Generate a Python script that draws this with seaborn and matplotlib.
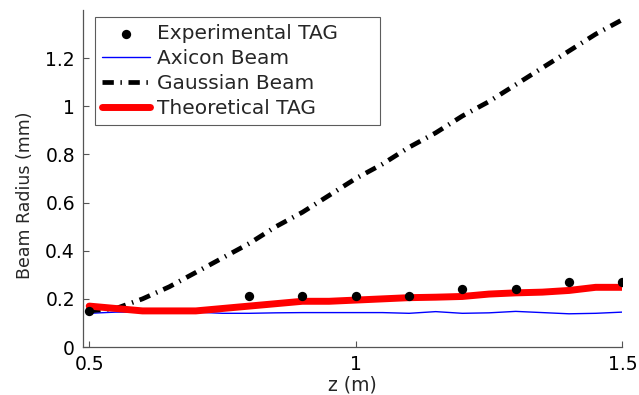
import numpy as np
import pandas as pd
import matplotlib
matplotlib.use("Agg")
import matplotlib.pyplot as plt
import seaborn as sns

# ---- data ----
z_exp = [0.5, 0.8, 0.9, 1.0, 1.1, 1.2, 1.3, 1.4, 1.5]
r_exp = [0.15, 0.21, 0.21, 0.21, 0.21, 0.24, 0.24, 0.27, 0.27]

z_line = [0.50, 0.55, 0.60, 0.65, 0.70, 0.75, 0.80, 0.85, 0.90, 0.95, 1.00,
          1.05, 1.10, 1.15, 1.20, 1.25, 1.30, 1.35, 1.40, 1.45, 1.50]
r_axicon = [0.14, 0.145, 0.145, 0.145, 0.145, 0.14, 0.14, 0.142, 0.143, 0.143, 0.143,
            0.143, 0.14, 0.147, 0.14, 0.142, 0.148, 0.143, 0.138, 0.14, 0.145]
r_gauss = [0.15, 0.16, 0.20, 0.25, 0.31, 0.37, 0.43, 0.50, 0.56, 0.63, 0.70,
           0.76, 0.83, 0.89, 0.96, 1.02, 1.09, 1.16, 1.23, 1.30, 1.36]
r_theory = [0.17, 0.16, 0.15, 0.15, 0.15, 0.16, 0.17, 0.18, 0.19, 0.19, 0.195,
            0.20, 0.205, 0.207, 0.21, 0.22, 0.225, 0.228, 0.235, 0.248, 0.248]

x_ticks = [0.5, 1, 1.5]
x_ticklabels = ["0.5", "1", "1.5"]
y_ticks = [0, 0.2, 0.4, 0.6, 0.8, 1.0, 1.2]
y_ticklabels = ["0", "0.2", "0.4", "0.6", "0.8", "1", "1.2"]

df_exp = pd.DataFrame({"z": z_exp, "r": r_exp})
df_lines = pd.DataFrame({"z": z_line, "axicon": r_axicon,
                         "gauss": r_gauss, "theory": r_theory})

sns.set_style("white")
plt.rcParams["font.family"] = ["DejaVu Sans"]

fig = plt.figure(figsize=(6.39, 3.95), dpi=100)
ax = fig.add_axes([0.1304, 0.1215, 0.8435, 0.853])

sns.scatterplot(data=df_exp, x="z", y="r", ax=ax, color="black", s=45,
                edgecolor="black", linewidth=0, label="Experimental TAG", zorder=5)
sns.lineplot(data=df_lines, x="z", y="axicon", ax=ax, color="#0000ff", lw=1.0,
             label="Axicon Beam", zorder=3)
sns.lineplot(data=df_lines, x="z", y="gauss", ax=ax, color="black", lw=3.4,
             label="Gaussian Beam", zorder=4)
gline = ax.lines[-1]
gline.set_dashes([2.4, 1.4, 0.3, 1.4])
gline.set_dash_capstyle("butt")
sns.lineplot(data=df_lines, x="z", y="theory", ax=ax, color="#ff0000", lw=5.0,
             label="Theoretical TAG", zorder=4)

ax.set_xlim(0.489, 1.5)
ax.set_ylim(0, 1.4)
ax.set_xticks(x_ticks)
ax.set_xticklabels(x_ticklabels)
ax.set_yticks(y_ticks)
ax.set_yticklabels(y_ticklabels)
ax.tick_params(axis="both", direction="in", length=4, width=0.8, color="#555555",
               labelsize=13.5, labelcolor="black")
ax.tick_params(axis="y", pad=6)
ax.tick_params(axis="x", pad=6)
ax.tick_params(bottom=True, left=True)

for s in ["top", "right"]:
    ax.spines[s].set_visible(False)
for s in ["left", "bottom"]:
    ax.spines[s].set_color("#555555")
    ax.spines[s].set_linewidth(0.9)

ax.set_xlabel("z (m)", fontsize=13.5, labelpad=1)
ax.set_ylabel("Beam Radius (mm)", fontsize=12.5)
ax.yaxis.set_label_coords(-0.092, 0.451)

leg = ax.legend(loc="upper left", bbox_to_anchor=(0.0217, 0.0, 0.529, 0.980),
                mode="expand", fontsize=14.5,
                frameon=True, fancybox=False, edgecolor="#333333",
                handlelength=2.4, handletextpad=0.35, borderpad=0.35,
                labelspacing=0.3, borderaxespad=0.0)
leg.get_frame().set_linewidth(0.8)
for h in leg.legend_handles:
    if h.get_label() == "Gaussian Beam":
        h.set_dashes([2.4, 1.4, 0.3, 1.4])
        h.set_dash_capstyle("butt")

fig.savefig("out.png", dpi=100)
